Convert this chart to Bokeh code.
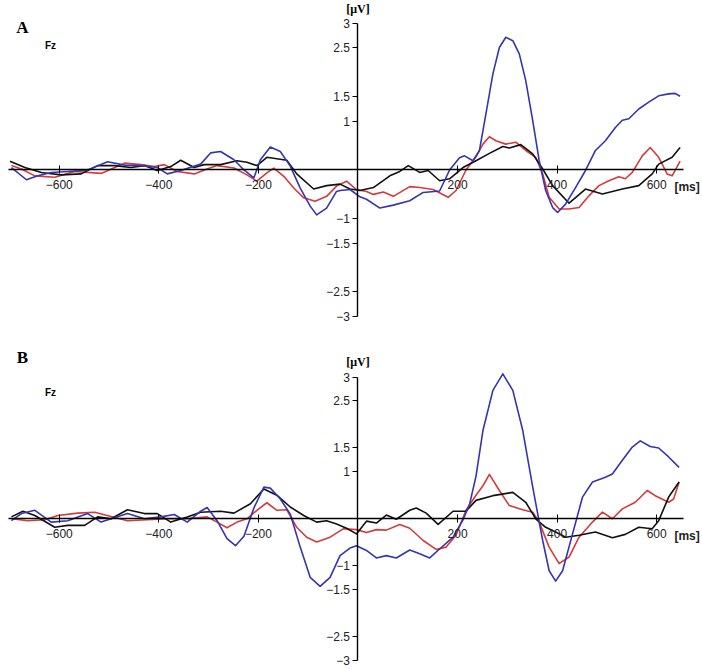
from bokeh.plotting import figure
from bokeh.layouts import column
from bokeh.models import Range1d, FixedTicker, Label
from bokeh.embed import file_html
from bokeh.resources import INLINE

# ---------------- data (time in ms, amplitude in µV) ----------------
x_ticks = [-600, -400, -200, 200, 400, 600]
y_ticks = [-3, -2.5, -1.5, -1, 1, 1.5, 2.5, 3]

# Panel A
a_blue_t = [-696, -666, -643, -616, -583, -543, -503, -469, -436, -403, -383, -356, -316, -296, -276, -249, -229, -209, -196, -176, -156, -136, -116, -96, -83, -63, -43, -36, -16, 4, 17, 44, 71, 104, 131, 164, 184, 204, 214, 231, 244, 257, 271, 284, 297, 311, 324, 337, 351, 364, 377, 391, 401, 417, 437, 457, 477, 497, 517, 531, 544, 564, 584, 604, 624, 637, 647]
a_blue_v = [0.05, -0.2, -0.12, -0.05, -0.03, 0.0, 0.17, 0.1, 0.09, 0.05, -0.08, -0.01, 0.12, 0.35, 0.38, 0.21, 0.0, -0.16, 0.21, 0.47, 0.38, 0.08, -0.37, -0.74, -0.92, -0.78, -0.44, -0.42, -0.4, -0.55, -0.6, -0.78, -0.72, -0.63, -0.46, -0.43, 0.0, 0.25, 0.29, 0.19, 0.4, 1.15, 1.97, 2.51, 2.72, 2.65, 2.38, 1.83, 1.01, 0.19, -0.42, -0.77, -0.87, -0.7, -0.36, -0.01, 0.4, 0.6, 0.87, 1.02, 1.05, 1.25, 1.39, 1.52, 1.56, 1.57, 1.51]

a_red_t = [-696, -676, -649, -609, -569, -516, -469, -436, -409, -389, -363, -329, -303, -283, -249, -223, -203, -183, -169, -149, -129, -109, -86, -63, -43, -23, -3, 17, 31, 51, 71, 104, 124, 151, 181, 197, 217, 237, 251, 264, 277, 297, 317, 337, 357, 371, 384, 404, 424, 444, 464, 484, 504, 524, 537, 551, 571, 587, 604, 621, 631, 647]
a_red_v = [0.09, 0.02, -0.12, -0.15, -0.03, -0.07, 0.14, 0.11, 0.07, 0.11, -0.03, -0.08, 0.02, 0.09, 0.04, -0.1, -0.23, -0.06, 0.04, -0.13, -0.37, -0.57, -0.64, -0.54, -0.33, -0.23, -0.4, -0.44, -0.5, -0.45, -0.54, -0.34, -0.36, -0.4, -0.56, -0.42, 0.0, 0.27, 0.53, 0.68, 0.6, 0.53, 0.57, 0.4, 0.26, -0.08, -0.56, -0.8, -0.8, -0.77, -0.53, -0.32, -0.22, -0.14, -0.18, -0.05, 0.29, 0.46, 0.26, -0.08, -0.12, 0.18]

a_black_t = [-699, -669, -636, -596, -556, -523, -489, -456, -429, -403, -376, -356, -329, -309, -276, -243, -223, -203, -183, -143, -123, -89, -63, -36, -16, 4, 31, 64, 84, 101, 124, 141, 164, 184, 211, 237, 264, 291, 304, 327, 351, 371, 391, 424, 457, 491, 531, 564, 591, 604, 631, 647]
a_black_v = [0.18, 0.05, -0.05, -0.1, -0.08, 0.09, 0.09, 0.05, 0.09, -0.01, 0.07, 0.2, 0.05, 0.11, 0.11, 0.19, 0.16, 0.09, 0.26, 0.2, -0.08, -0.39, -0.32, -0.29, -0.39, -0.42, -0.36, -0.12, -0.03, 0.09, -0.05, -0.01, -0.22, -0.18, 0.05, 0.19, 0.34, 0.48, 0.45, 0.52, 0.33, 0.02, -0.32, -0.68, -0.39, -0.49, -0.39, -0.32, -0.08, 0.12, 0.26, 0.46]

# Panel B
b_blue_t = [-696, -676, -649, -616, -583, -543, -516, -463, -429, -396, -369, -343, -316, -303, -283, -263, -246, -229, -209, -189, -176, -156, -136, -116, -96, -76, -56, -36, -16, -3, 17, 37, 57, 77, 104, 124, 144, 164, 191, 211, 224, 237, 251, 271, 291, 311, 331, 351, 371, 384, 397, 411, 431, 451, 471, 497, 511, 531, 551, 567, 587, 604, 624, 645]
b_blue_v = [-0.04, 0.11, 0.18, -0.07, -0.04, 0.11, -0.07, 0.11, 0.0, 0.04, 0.09, -0.07, 0.16, 0.24, -0.04, -0.42, -0.57, -0.37, 0.23, 0.67, 0.65, 0.42, 0.1, -0.6, -1.24, -1.43, -1.24, -0.78, -0.62, -0.57, -0.67, -0.83, -0.78, -0.83, -0.66, -0.74, -0.83, -0.64, -0.39, -0.02, 0.3, 0.9, 1.87, 2.72, 3.07, 2.72, 1.87, 0.67, -0.46, -1.1, -1.32, -1.1, -0.32, 0.46, 0.78, 0.88, 0.95, 1.24, 1.52, 1.65, 1.53, 1.5, 1.31, 1.09]

b_red_t = [-696, -663, -629, -603, -563, -529, -496, -463, -423, -383, -343, -303, -283, -263, -243, -223, -203, -183, -163, -143, -123, -103, -83, -56, -29, -3, 17, 37, 57, 84, 104, 131, 157, 177, 197, 217, 237, 251, 264, 284, 304, 331, 351, 364, 384, 404, 424, 444, 471, 491, 511, 531, 557, 581, 597, 624, 634, 645]
b_red_v = [0.0, -0.04, -0.02, 0.07, 0.12, 0.14, 0.05, -0.04, -0.02, 0.0, 0.0, 0.04, -0.07, -0.19, -0.07, 0.0, 0.18, 0.34, 0.18, 0.19, -0.18, -0.39, -0.49, -0.39, -0.21, -0.23, -0.29, -0.23, -0.24, -0.12, -0.2, -0.46, -0.65, -0.6, -0.35, 0.18, 0.5, 0.7, 0.94, 0.6, 0.28, 0.19, 0.14, -0.07, -0.6, -0.95, -0.81, -0.39, -0.07, 0.14, 0.0, 0.21, 0.35, 0.6, 0.49, 0.35, 0.42, 0.78]

b_black_t = [-696, -673, -649, -609, -583, -549, -523, -496, -463, -429, -403, -376, -343, -316, -276, -249, -216, -189, -163, -136, -109, -83, -63, -43, -23, -3, 17, 37, 57, 77, 104, 117, 137, 161, 191, 217, 237, 271, 311, 337, 357, 377, 397, 417, 444, 477, 511, 537, 564, 591, 604, 624, 645]
b_black_v = [0.04, 0.16, 0.07, -0.18, -0.14, -0.14, 0.04, 0.0, 0.19, 0.11, 0.11, -0.07, 0.04, 0.14, 0.16, 0.12, 0.32, 0.63, 0.5, 0.25, 0.07, -0.07, -0.04, -0.11, -0.2, -0.32, -0.05, -0.09, 0.08, -0.01, 0.18, 0.23, 0.12, -0.12, 0.16, 0.16, 0.39, 0.49, 0.56, 0.35, 0.0, -0.18, -0.28, -0.39, -0.35, -0.28, -0.4, -0.33, -0.18, -0.21, -0.04, 0.46, 0.78]

BLUE = "#3434b4"
RED = "#d63a3a"
BLACK = "#111111"


def make_panel(letter, height, y_start, y_end, series):
    p = figure(width=702, height=height, output_backend="svg", toolbar_location=None,
               x_range=Range1d(-718, 692), y_range=Range1d(y_start, y_end),
               min_border=0, min_border_left=0, min_border_right=0,
               min_border_top=0, min_border_bottom=0)
    p.outline_line_color = None
    p.xgrid.visible = False
    p.ygrid.visible = False
    p.background_fill_color = "white"
    p.border_fill_color = "white"

    for t, v, c in series:
        p.line(t, v, line_color=c, line_width=1.6, line_join="round")

    xa = p.xaxis[0]
    xa.fixed_location = 0
    xa.bounds = (-702, 653)
    xa.ticker = FixedTicker(ticks=x_ticks)
    xa.minor_tick_line_color = None
    xa.major_tick_in = 4
    xa.major_tick_out = 4
    xa.major_label_standoff = 6
    xa.axis_line_color = "black"
    xa.axis_line_width = 1.4
    xa.major_tick_line_color = "black"
    xa.major_label_text_font = "Liberation Sans"
    xa.major_label_text_font_size = "12px"
    xa.major_label_text_color = "#222222"

    ya = p.yaxis[0]
    ya.fixed_location = 0
    ya.bounds = (-3, 3)
    ya.ticker = FixedTicker(ticks=y_ticks)
    ya.minor_tick_line_color = None
    ya.major_tick_in = 0
    ya.major_tick_out = 5
    ya.major_label_standoff = 3
    ya.axis_line_color = "black"
    ya.axis_line_width = 1.4
    ya.major_tick_line_color = "black"
    ya.major_label_text_font = "Liberation Sans"
    ya.major_label_text_font_size = "12px"
    ya.major_label_text_color = "#222222"

    # annotation texts in screen units (origin bottom-left)
    p.add_layout(Label(x=22, y=height - 27, x_units="screen", y_units="screen", text=letter,
                       text_font="Liberation Serif", text_font_style="bold", text_font_size="17px",
                       text_align="center", text_baseline="middle", text_color="black"))
    p.add_layout(Label(x=50, y=height - (45 if letter == "A" else 62), x_units="screen", y_units="screen",
                       text="Fz", text_font="Liberation Sans", text_font_style="bold",
                       text_font_size="10px", text_align="center", text_baseline="middle",
                       text_color="black"))
    p.add_layout(Label(x=0, y=3, x_units="data", y_units="data", text="[μV]", y_offset=15,
                       text_font="Liberation Serif", text_font_style="bold", text_font_size="12px",
                       text_align="center", text_baseline="middle", text_color="black"))
    p.add_layout(Label(x=653, y=0, x_units="data", y_units="data", text="[ms]", x_offset=4, y_offset=-17,
                       text_font="Liberation Sans", text_font_style="bold", text_font_size="12px",
                       text_align="center", text_baseline="middle", text_color="#222222"))
    return p


pA = make_panel("A", 330, -3.289, 3.473,
                [(a_red_t, a_red_v, RED), (a_black_t, a_black_v, BLACK), (a_blue_t, a_blue_v, BLUE)])
pB = make_panel("B", 339, -3.193, 3.989,
                [(b_red_t, b_red_v, RED), (b_black_t, b_black_v, BLACK), (b_blue_t, b_blue_v, BLUE)])

layout = column(pA, pB, spacing=0)
open("out.html", "w").write(file_html(layout, INLINE))
